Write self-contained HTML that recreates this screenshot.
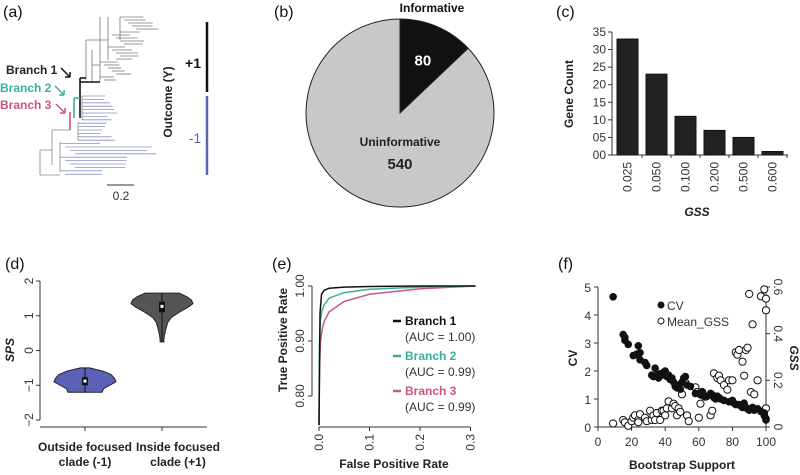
<!DOCTYPE html>
<html><head><meta charset="utf-8"><style>
body{margin:0;background:#fff}
svg{display:block;font-family:"Liberation Sans",sans-serif}
.t{font-size:12px;fill:#333}
.b{font-weight:bold;font-size:12px;fill:#222}
.pl{font-size:16px;fill:#111}
</style></head><body>
<svg id="s" width="800" height="475" viewBox="0 0 800 475">
<text class="pl" x="3" y="17">(a)</text>
<text class="pl" x="274" y="17">(b)</text>
<text class="pl" x="556" y="17">(c)</text>
<text class="pl" x="5" y="269">(d)</text>
<text class="pl" x="272" y="269">(e)</text>
<text class="pl" x="558" y="269">(f)</text>

<g id="tree" fill="none" stroke-width="0.8"></g>
<g>
<text class="b" x="6" y="74" font-size="12">Branch 1</text>
<text class="b" x="0" y="92" style="fill:#3aae9c">Branch 2</text>
<text class="b" x="0" y="109" style="fill:#cc5580">Branch 3</text>
<path d="M61,68 L70,77 M70,77 l-5,-0 M70,77 l0,-5" stroke="#111" stroke-width="1.5" fill="none"/>
<path d="M55,86 L64,95 M64,95 l-5,0 M64,95 l0,-5" stroke="#3aae9c" stroke-width="1.5" fill="none"/>
<path d="M56,104 L65,113 M65,113 l-5,0 M65,113 l0,-5" stroke="#cc5580" stroke-width="1.5" fill="none"/>
</g>
<line x1="107" y1="185" x2="134" y2="185" stroke="#333" stroke-width="1"/>
<text class="t" x="121" y="200" text-anchor="middle">0.2</text>
<line x1="207" y1="22" x2="207" y2="92" stroke="#111" stroke-width="2.5"/>
<line x1="207" y1="96" x2="207" y2="175" stroke="#5b62b0" stroke-width="2.5"/>
<text x="193" y="68" font-size="14" font-weight="bold" fill="#111" text-anchor="middle">+1</text>
<text x="195" y="143" font-size="14" fill="#5b62b0" text-anchor="middle">-1</text>
<text class="b" transform="translate(172,102) rotate(-90)" text-anchor="middle">Outcome (Y)</text>

<g id="pie"></g>
<g id="pc"></g>
<g id="pd"></g>
<g id="pe"></g>
<g id="pf"></g>
</svg>
<script>
const NS="http://www.w3.org/2000/svg";
function mk(p,tag,at,txt){const e=document.createElementNS(NS,tag);for(const k in at)e.setAttribute(k,at[k]);if(txt!=null)e.textContent=txt;p.appendChild(e);return e;}

const pieLabels=["Informative","Uninformative"];
const pieValues=[80,540];

const barCategories=["0.025","0.050","0.100","0.200","0.500","0.600"];
const barValues=[33,23,11,7,5,1];
const barTicks=[0,5,10,15,20,25,30,35];
const barTickLabels=["00","05","10","15","20","25","30","35"];

const violinGroups=["Outside focused clade (-1)","Inside focused clade (+1)"];
const violin1Y=[-0.5,-0.6,-0.7,-0.8,-0.9,-1.0,-1.1,-1.2];
const violin1W=[0.15,0.6,0.85,0.95,1.0,0.8,0.6,0.55];
const violin2Y=[1.65,1.55,1.45,1.35,1.25,1.1,0.95,0.8,0.6,0.45,0.3,0.25];
const violin2W=[0.55,0.8,0.95,1.0,0.85,0.55,0.3,0.18,0.12,0.08,0.06,0.06];
const violinMedians=[-0.88,1.27];
const violinQ1=[-1.0,1.1];
const violinQ3=[-0.77,1.4];
const violinTicks=[-2,-1,0,1,2];

const rocNames=["Branch 1","Branch 2","Branch 3"];
const rocAuc=["(AUC = 1.00)","(AUC = 0.99)","(AUC = 0.99)"];
const roc1Fpr=[0,0.002,0.005,0.01,0.02,0.05,0.1,0.2,0.31];
const roc1Tpr=[0.747,0.95,0.985,0.992,0.996,0.998,0.999,1,1];
const roc2Fpr=[0,0.001,0.003,0.006,0.01,0.02,0.05,0.1,0.2,0.31];
const roc2Tpr=[0.747,0.9,0.94,0.955,0.965,0.978,0.988,0.994,0.998,1];
const roc3Fpr=[0,0.001,0.003,0.006,0.01,0.02,0.05,0.1,0.2,0.31];
const roc3Tpr=[0.747,0.85,0.9,0.92,0.935,0.953,0.972,0.985,0.995,1];
const rocXTicks=[0,0.1,0.2,0.3];
const rocYTicks=[0.8,0.9,1.0];

const cvX=[9,15,16,16,18,21,23,24,25,25,28,29,32,33,34,35,36,37,38,39,40,41,42,43,44,45,46,47,48,49,50,51,52,53,55,58,60,61,62,63,65,67,68,69,70,71,72,73,75,78,80,81,82,84,85,86,87,88,89,90,91,92,93,95,97,99,100,100,99];
const cvY=[4.65,3.3,3.2,3.1,2.95,2.55,2.6,2.9,2.65,2.4,2.3,2.2,1.85,1.8,2.1,1.85,1.75,1.9,1.85,1.95,2.0,1.8,1.85,1.7,1.75,1.6,1.45,1.4,1.5,1.35,1.6,1.75,1.8,1.5,1.45,1.2,1.2,1.15,1.25,1.1,1.1,1.2,1.15,1.05,1.0,1.1,1.05,1.0,0.95,0.9,0.95,0.85,0.8,0.8,0.75,0.7,0.85,0.7,0.65,0.6,0.65,0.7,0.6,0.65,0.55,0.4,0.3,0.25,0.5];
const gssX=[9,15,16,18,20,21,22,24,24,25,28,29,31,32,33,34,35,37,38,39,40,41,42,44,45,46,47,48,49,50,52,53,54,58,59,60,61,62,64,67,68,69,71,72,73,75,77,78,80,82,83,84,86,87,88,89,90,91,92,93,95,97,99,100,100,100];
const gssY=[0.015,0.03,0.02,0.005,0.025,0.04,0.05,0.03,0.02,0.055,0.04,0.025,0.07,0.03,0.05,0.03,0.06,0.03,0.07,0.07,0.05,0.08,0.11,0.08,0.1,0.09,0.05,0.08,0.065,0.14,0.19,0.05,0.025,0.17,0.15,0.04,0.1,0.15,0.13,0.05,0.07,0.23,0.21,0.22,0.2,0.18,0.16,0.2,0.2,0.32,0.31,0.33,0.28,0.22,0.33,0.34,0.57,0.15,0.44,0.14,0.2,0.56,0.59,0.55,0.5,0.08];
const cvTicks=[0,1,2,3,4,5];
const gssTicks=[0,0.2,0.4,0.6];
const bsTicks=[0,20,40,60,80,100];

const treeLeafLen=[52,48,55,46,50,44,40,47,53,42,38,45,49,41,36,39,34,30,28,33,31,26,29,27,35,38,40,44,32,37,36,34,30,28,42,46,50,62,55,58,48,44,40,36,30,26];
(function(){
  const g=document.getElementById('tree');
  const gray="#777", blue="#8a8fc8";
  let y=17;
  for(let i=0;i<22;i++){const x0=100+(i%5)*4+(i<6?20:i<14?8:0);mk(g,'line',{x1:x0,y1:y,x2:x0+treeLeafLen[i]*0.45,y2:y,stroke:gray});y+=3;}
  mk(g,'path',{d:"M100,17 V81 M108,17 V60 M120,17 V40 M92,50 V81 M92,65 H100 M86,40 V80 M86,40 H108",stroke:gray});
  mk(g,'path',{d:"M80,82 H100 M80,78 V118 M80,78 H86",stroke:"#111","stroke-width":1.6});
  mk(g,'path',{d:"M74,98 V118 M74,98 H80",stroke:"#3aae9c","stroke-width":1.6});
  mk(g,'path',{d:"M70,112 V130",stroke:"#cc5580","stroke-width":1.6});
  y=96;
  for(let i=22;i<treeLeafLen.length;i++){const x0=(i<30?82:i<36?78:60+(i%4)*5);mk(g,'line',{x1:x0,y1:y,x2:x0+treeLeafLen[i]*(i>36?1.4:0.8),y2:y,stroke:blue});y+=3.4;}
  mk(g,'path',{d:"M82,96 V120 M78,122 V140 M60,142 V172 M52,130 V165 M52,130 H70 M40,150 V175 M40,150 H52 M40,175 H60",stroke:"#888"});
})();

(function(){
  const g=document.getElementById('pie');const cx=400,cy=113,r=94;
  const tot=pieValues.reduce((a,b)=>a+b,0);let a0=-Math.PI/2;
  const cols=["#111","#c8c8c8"];
  pieValues.forEach((v,i)=>{const a1=a0+v/tot*2*Math.PI;const large=(a1-a0)>Math.PI?1:0;
    const p=mk(g,'path',{d:`M${cx},${cy} L${cx+r*Math.cos(a0)},${cy+r*Math.sin(a0)} A${r},${r} 0 ${large} 1 ${cx+r*Math.cos(a1)},${cy+r*Math.sin(a1)} Z`,fill:cols[i],stroke:"#222","stroke-width":1});
    
    
    a0=a1;});
  mk(g,'text',{x:432,y:12,"font-size":12,"font-weight":"bold",fill:"#111","text-anchor":"middle"},pieLabels[0]);
  const f=pieValues[0]/tot*Math.PI; const am=-Math.PI/2+f;
  mk(g,'text',{x:cx+58*Math.cos(am),y:cy+58*Math.sin(am)+6,"font-size":15,"font-weight":"bold",fill:"#fff","text-anchor":"middle"},String(pieValues[0]));
  mk(g,'text',{x:cx,y:cy+33,"font-size":12,"font-weight":"bold",fill:"#222","text-anchor":"middle"},pieLabels[1]);
  mk(g,'text',{x:cx,y:cy+56,"font-size":15,"font-weight":"bold",fill:"#222","text-anchor":"middle"},String(pieValues[1]));
})();

(function(){
  const g=document.getElementById('pc');const x0=612,yb=155,yt=32,ymax=35;
  const Y=v=>yb-(v/ymax)*(yb-yt); const step=29, bw=21, bx0=617;
  mk(g,'line',{x1:x0,y1:yt,x2:x0,y2:yb,stroke:"#333"});
  mk(g,'line',{x1:x0,y1:yb,x2:788,y2:yb,stroke:"#333"});
  barTicks.forEach((t,i)=>{mk(g,'line',{x1:x0-4,y1:Y(t),x2:x0,y2:Y(t),stroke:"#333"});
    mk(g,'text',{class:"t",x:x0-6,y:Y(t)+4,"text-anchor":"end","font-size":12},barTickLabels[i]);});
  barValues.forEach((v,i)=>{const x=bx0+i*step;
    const r=mk(g,'rect',{x:x,y:Y(v),width:bw,height:yb-Y(v),fill:"#222",stroke:"#111"});
    
    
    mk(g,'line',{x1:x+bw+4,y1:yb,x2:x+bw+4,y2:yb+3,stroke:"#333"});
    mk(g,'text',{class:"t",transform:`translate(${x+bw/2+4},${yb+7}) rotate(-90)`,"text-anchor":"end","font-size":12},barCategories[i]);});
  mk(g,'text',{class:"b",transform:"translate(573,94) rotate(-90)","text-anchor":"middle"},"Gene Count");
  mk(g,'text',{class:"b",x:697,y:216,"text-anchor":"middle","font-style":"italic"},"GSS");
})();

(function(){
  const g=document.getElementById('pd');const ax=40,Y=v=>350.5-v*34.75;const cxs=[85,162];const hw=31;
  mk(g,'line',{x1:ax,y1:Y(2),x2:ax,y2:Y(-2),stroke:"#333"});
  violinTicks.forEach(t=>{mk(g,'line',{x1:ax-4,y1:Y(t),x2:ax,y2:Y(t),stroke:"#333"});
    mk(g,'text',{class:"t",transform:`translate(${ax-7},${Y(t)}) rotate(-90)`,"text-anchor":"middle"},t<0?"\u2212"+(-t):String(t));});
  mk(g,'line',{x1:ax,y1:427,x2:207,y2:427,stroke:"#333"});
  cxs.forEach(c=>mk(g,'line',{x1:c,y1:427,x2:c,y2:431,stroke:"#333"}));
  mk(g,'text',{class:"b",transform:"translate(14,350) rotate(-90)","text-anchor":"middle","font-style":"italic"},"SPS");
  function vio(ys,ws,c,fill,i){let L="",R="";
    ys.forEach((y,k)=>{L+=(k?"L":"M")+(c-ws[k]*hw)+","+Y(y)+" ";});
    for(let k=ys.length-1;k>=0;k--)R+="L"+(c+ws[k]*hw)+","+Y(ys[k])+" ";
    const p=mk(g,'path',{d:L+R+"Z",fill:fill,stroke:"#222","stroke-width":1});
    
    
    mk(g,'line',{x1:c,y1:Y(ys[0]),x2:c,y2:Y(ys[ys.length-1]),stroke:"#111"});
    mk(g,'rect',{x:c-3,y:Y(violinQ3[i]),width:6,height:Y(violinQ1[i])-Y(violinQ3[i]),fill:"#111"});
    mk(g,'rect',{x:c-1.5,y:Y(violinMedians[i])-1.5,width:3,height:3,fill:"#fff"});}
  vio(violin1Y,violin1W,cxs[0],"#5b62b5",0);
  vio(violin2Y,violin2W,cxs[1],"#555",1);
  const lab=[["Outside focused","clade (-1)"],["Inside focused","clade (+1)"]];const lx=[85,178];
  lab.forEach((l,i)=>{mk(g,'text',{class:"b",x:lx[i],y:451,"text-anchor":"middle","font-size":11},l[0]);mk(g,'text',{class:"b",x:lx[i],y:466,"text-anchor":"middle","font-size":11},l[1]);});
})();

(function(){
  const g=document.getElementById('pe');const X=v=>319+v/0.1*50.5, Y=v=>286+(1-v)/0.1*55;
  mk(g,'line',{x1:312,y1:Y(1),x2:312,y2:Y(0.8),stroke:"#333"});
  rocYTicks.forEach(t=>{mk(g,'line',{x1:308,y1:Y(t),x2:312,y2:Y(t),stroke:"#333"});
    mk(g,'text',{class:"t",transform:`translate(304,${Y(t)}) rotate(-90)`,"text-anchor":"middle"},t.toFixed(2));});
  mk(g,'line',{x1:X(0),y1:427,x2:X(0.3),y2:427,stroke:"#333"});
  rocXTicks.forEach(t=>{mk(g,'line',{x1:X(t),y1:427,x2:X(t),y2:431,stroke:"#333"});
    mk(g,'text',{class:"t",transform:`translate(${X(t)+4},434) rotate(-90)`,"text-anchor":"end"},t.toFixed(1));});
  const cols=["#111","#3aae9c","#cc5580"];
  const sets=[[roc3Fpr,roc3Tpr,2],[roc2Fpr,roc2Tpr,1],[roc1Fpr,roc1Tpr,0]];
  sets.forEach(s=>{const p=mk(g,'polyline',{points:s[0].map((f,k)=>X(f)+","+Y(s[1][k])).join(" "),fill:"none",stroke:cols[s[2]],"stroke-width":1.5});
    
    });
  rocNames.forEach((n,i)=>{const y=325+i*35;
    mk(g,'line',{x1:393,y1:y-4,x2:401,y2:y-4,stroke:cols[i],"stroke-width":2.5});
    mk(g,'text',{class:"b",x:405,y:y,style:"fill:"+cols[i]},n);
    mk(g,'text',{class:"t",x:405,y:y+16,"font-size":12},rocAuc[i]);});
  mk(g,'text',{class:"b",transform:"translate(287,340) rotate(-90)","text-anchor":"middle"},"True Positive Rate");
  mk(g,'text',{class:"b",x:394,y:468,"text-anchor":"middle"},"False Positive Rate");
})();

(function(){
  const g=document.getElementById('pf');const X=v=>598+v*1.68, Y=v=>427-v*28, Y2=v=>427-v/0.6*140;
  mk(g,'line',{x1:598,y1:287,x2:598,y2:427,stroke:"#333"});
  mk(g,'line',{x1:766,y1:287,x2:766,y2:427,stroke:"#333"});
  mk(g,'line',{x1:598,y1:427,x2:766,y2:427,stroke:"#333"});
  cvTicks.forEach(t=>{mk(g,'line',{x1:594,y1:Y(t),x2:598,y2:Y(t),stroke:"#333"});mk(g,'text',{class:"t",x:591,y:Y(t)+5,"text-anchor":"end","font-size":13},String(t));});
  gssTicks.forEach(t=>{mk(g,'line',{x1:766,y1:Y2(t),x2:770,y2:Y2(t),stroke:"#333"});mk(g,'text',{class:"t",transform:`translate(774,${Y2(t)}) rotate(90)`,"text-anchor":"middle","font-size":13},t===0?"0":t.toFixed(1));});
  bsTicks.forEach(t=>{mk(g,'line',{x1:X(t),y1:427,x2:X(t),y2:431,stroke:"#333"});mk(g,'text',{class:"t",x:X(t),y:446,"text-anchor":"middle","font-size":13},String(t));});
  gssX.forEach((x,i)=>{const c=mk(g,'circle',{cx:X(x),cy:Y2(gssY[i]),r:3.6,fill:"#fff",stroke:"#111","stroke-width":1});
    
    });
  cvX.forEach((x,i)=>{const c=mk(g,'circle',{cx:X(x),cy:Y(cvY[i]),r:3.8,fill:"#111"});
    
    });
  mk(g,'circle',{cx:661,cy:305,r:3.5,fill:"#111"});mk(g,'text',{class:"t",x:667,y:310,"font-size":13,fill:"#111"},"CV");
  mk(g,'circle',{cx:661,cy:321,r:3,fill:"#fff",stroke:"#111"});mk(g,'text',{class:"t",x:667,y:326,"font-size":13},"Mean_GSS");
  mk(g,'text',{class:"b",transform:"translate(577,358) rotate(-90)","text-anchor":"middle"},"CV");
  mk(g,'text',{class:"b",transform:"translate(790,358) rotate(90)","text-anchor":"middle","font-style":"italic"},"GSS");
  mk(g,'text',{class:"b",x:682,y:469,"text-anchor":"middle"},"Bootstrap Support");
})();
</script>
</body></html>
